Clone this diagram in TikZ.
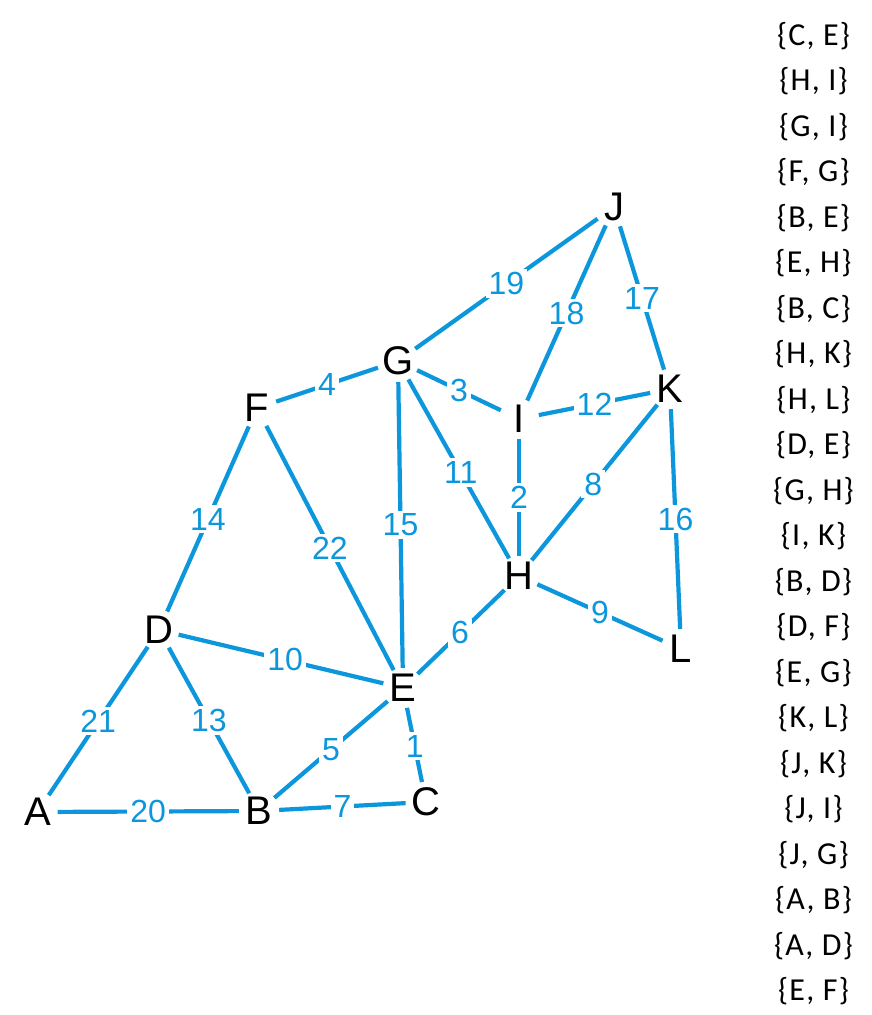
\documentclass[tikz,border=0pt]{standalone}
\usepackage{fontspec}
\setmainfont{Liberation Sans}
\newfontfamily\listfont[LetterSpace=4]{Carlito}
\definecolor{edgeblue}{RGB}{12,150,220}
\tikzset{
  vert/.style={circle,inner sep=0pt,minimum size=40pt,text=black,font=\fontsize{40}{44}\selectfont},
  edge/.style={draw=edgeblue,line width=4.2pt},
  lbl/.style={fill=white,inner sep=3pt,text=edgeblue,font=\fontsize{32}{36}\selectfont},
  listitem/.style={anchor=base,inner sep=0pt,text=black,font=\listfont\fontsize{32}{36}\selectfont}
}
\begin{document}
\begin{tikzpicture}[x=1pt,y=-1pt]
\useasboundingbox (0,0) rectangle (871,1015);
\node[vert] (A) at (37.5,812) {A};
\node[vert] (B) at (259,811) {B};
\node[vert] (C) at (426,802) {C};
\node[vert] (D) at (159,630) {D};
\node[vert] (E) at (403,688) {E};
\node[vert] (F) at (257,408) {F};
\node[vert] (G) at (398,361) {G};
\node[vert] (H) at (519,576) {H};
\node[vert] (I) at (519,419) {I};
\node[vert] (J) at (614,207) {J};
\node[vert] (K) at (670,389) {K};
\node[vert] (L) at (681,649) {L};

\draw[edge] (A) -- node[lbl] {21} (D);
\draw[edge] (A) -- node[lbl] {20} (B);
\draw[edge] (D) -- node[lbl] {13} (B);
\draw[edge] (D) -- node[lbl,pos=0.52] {10} (E);
\draw[edge] (B) -- node[lbl] {5} (E);
\draw[edge] (B) -- node[lbl] {7} (C);
\draw[edge] (E) -- node[lbl,pos=0.52] {1} (C);
\draw[edge] (E) -- node[lbl,pos=0.49] {6} (H);
\draw[edge] (F) -- node[lbl] {22} (E);
\draw[edge] (G) -- node[lbl] {15} (E);
\draw[edge] (D) -- node[lbl] {14} (F);
\draw[edge] (F) -- node[lbl] {4} (G);
\draw[edge] (G) -- node[lbl] {3} (I);
\draw[edge] (G) -- node[lbl,pos=0.52] {11} (H);
\draw[edge] (I) -- node[lbl] {2} (H);
\draw[edge] (K) -- node[lbl,pos=0.51] {8} (H);
\draw[edge] (H) -- node[lbl] {9} (L);
\draw[edge] (I) -- node[lbl] {12} (K);
\draw[edge] (K) -- node[lbl] {16} (L);
\draw[edge] (G) -- node[lbl] {19} (J);
\draw[edge] (I) -- node[lbl] {18} (J);
\draw[edge] (J) -- node[lbl] {17} (K);

\foreach \t [count=\i] in {{C, E},{H, I},{G, I},{F, G},{B, E},{E, H},{B, C},{H, K},{H, L},{D, E},{G, H},{I, K},{B, D},{D, F},{E, G},{K, L},{J, K},{J, I},{J, G},{A, B},{A, D},{E, F}}
  \node[listitem] (r\i) at (813.5,{45+(\i-1)*45.5}) {\{\t\}};
\end{tikzpicture}
\end{document}
